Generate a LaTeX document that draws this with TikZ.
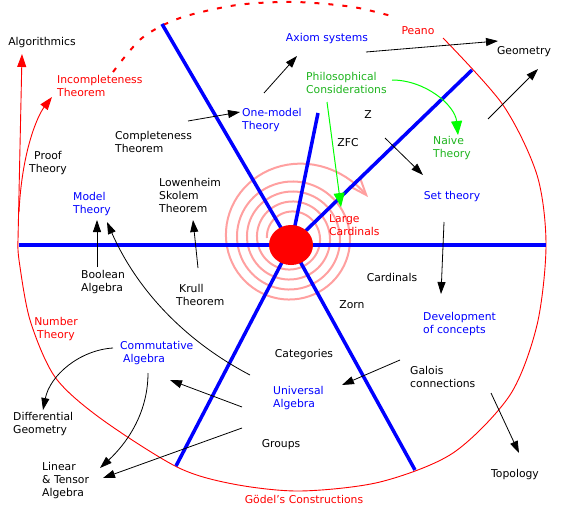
\documentclass[tikz,border=0pt]{standalone}
\usepackage{fontspec}
\setmainfont{DejaVu Sans}
\usepackage{xcolor}
\usepackage{tikz}
\usetikzlibrary{arrows.meta}
\definecolor{MapBlue}{HTML}{0000FF}
\definecolor{MapRed}{HTML}{FF0000}
\definecolor{MapGreen}{HTML}{1EB41E}
\definecolor{MapLime}{HTML}{00FF00}
\definecolor{MapPink}{HTML}{FFA0A0}
\tikzset{
  lbl/.style={inner sep=0pt,font=\fontsize{10.8}{13}\selectfont,align=left},
  topic/.style={lbl,text=MapBlue},
  limit/.style={lbl,text=MapRed},
  philo/.style={lbl,text=MapGreen},
  link/.style={-{Triangle[length=12pt,width=8pt]},line width=0.8pt},
  redlink/.style={-{Triangle[length=13pt,width=9pt]},line width=0.9pt,draw=MapRed},
  greenlink/.style={-{Triangle[length=14pt,width=11pt]},line width=1pt,draw=MapLime},
  spoke/.style={line width=3.5pt,draw=MapBlue},
  rim/.style={line width=0.9pt,draw=MapRed}
}

\begin{document}
\begin{tikzpicture}[x=1pt,y=-1pt,
  declare function={sprad(\a)=24+\a/36+19*(max(\a-1300,0)/292)*(max(\a-1300,0)/292)*(max(\a-1300,0)/292)*(max(\a-1300,0)/292);}]
  \useasboundingbox (0,0) rectangle (561,511);
  \coordinate (core) at (291,245);
  \coordinate (algo-i) at (22,54);
  \draw[redlink] plot[smooth] coordinates {(443,38) (503,105) (537,175) (546,245) (537,325)
    (510,395) (453,453) (380,482) (300,491) (233,484) (177,467) (100,418) (55,377) (30,320)
    (19,260) (18,240)} -- (algo-i);
  \draw[rim,line width=2pt,dash pattern=on 5pt off 9pt] plot[smooth] coordinates {(113,72)
    (142,38) (180,18) (237,5) (295,2) (353,7) (395,17)};
  \draw[MapPink,line width=2pt,-{Straight Barb[length=18pt,width=14pt]}]
    plot[domain=0:1592,samples=320,variable=\a]
    ({291+sprad(\a)*cos(\a-1260)},{238+sprad(\a)*sin(\a-1260)});
  \foreach \e in {(19,245),(546,245),(162,24),(318,113),(472,70),(176,466),(415,470)}
    \draw[spoke] (core) -- \e;
  \fill[MapRed] (core) ellipse [x radius=22,y radius=20];

  \node[lbl] (algo) at (42,43) {Algorithmics};
  \node[limit,anchor=west] (incomp) at (57,86) {Incompleteness\\Theorem};
  \node[lbl,align=center] (proof) at (48,163) {Proof\\Theory};
  \node[lbl,anchor=west] (cmpl) at (115,142) {Completeness\\Theorem};
  \node[topic,anchor=west] (onemodel) at (242,120) {One-model\\Theory};
  \node[topic] (axiom) at (327,39) {Axiom systems};
  \node[limit] (peano) at (418,31) {Peano};
  \node[lbl] (geom) at (524,52) {Geometry};
  \node[philo,anchor=west] (phil) at (306,83) {Philosophical\\Considerations};
  \node[lbl] (zz) at (368,115) {Z};
  \node[lbl] (zfc) at (348,143) {ZFC};
  \node[philo,anchor=west] (naive) at (433,148) {Naive\\Theory};
  \node[topic] (settheory) at (452,197) {Set theory};
  \node[topic,anchor=west] (model) at (73,204) {Model\\Theory};
  \node[lbl,anchor=west] (lowsk) at (159,195) {Lowenheim\\Skolem\\Theorem};
  \node[limit,anchor=west] (large) at (329,225) {Large\\Cardinals};
  \node[lbl,anchor=west] (boolean) at (81,282) {Boolean\\Algebra};
  \node[lbl,anchor=west] (krull) at (176,295) {\hspace*{3pt}Krull\\Theorem};
  \node[lbl] (cardinals) at (392,277) {Cardinals};
  \node[lbl] (zorn) at (352,305) {Zorn};
  \node[topic,anchor=west] (devel) at (423,324) {Development\\of concepts};
  \node[limit,align=center] (number) at (56,329) {Number\\Theory};
  \node[topic,anchor=west] (comm) at (120,353) {Commutative\\\hspace*{3pt}Algebra};
  \node[lbl] (categories) at (304,355) {Categories};
  \node[lbl,anchor=west] (galois) at (410,377) {Galois\\connections};
  \node[topic,anchor=west] (univ) at (273,398) {Universal\\Algebra};
  \node[lbl,anchor=west] (diff) at (13,424) {Differential\\Geometry};
  \node[lbl] (groups) at (281,445) {Groups};
  \node[lbl,anchor=west] (linear) at (42,481) {Linear\\\& Tensor\\Algebra};
  \node[lbl] (topology) at (515,475) {Topology};
  \node[limit] (godel) at (304,499) {Gödel's Constructions};

  \coordinate (cmpl-o) at (188,121); \coordinate (onemodel-i) at (240,112);
  \coordinate (onemodel-o) at (264,93); \coordinate (axiom-i) at (297,56);
  \coordinate (axiom-o) at (366,52); \coordinate (geom-i) at (498,41);
  \coordinate (geom-o) at (488,119); \coordinate (geom-j) at (538,69);
  \coordinate (phil-o) at (392,80); \coordinate (naive-i) at (458,135);
  \coordinate (phil-p) at (327,102); \coordinate (large-i) at (341,207);
  \coordinate (zz-o) at (385,138); \coordinate (set-i) at (423,175);
  \coordinate (set-o) at (444,222); \coordinate (devel-i) at (441,294);
  \coordinate (bool-o) at (97,267); \coordinate (model-i) at (97,220);
  \coordinate (univ-p) at (250,375); \coordinate (model-j) at (107,222);
  \coordinate (krull-o) at (198,268); \coordinate (lowsk-i) at (193,220);
  \coordinate (comm-o) at (113,348); \coordinate (diff-i) at (43,410);
  \coordinate (comm-p) at (148,373); \coordinate (linear-i) at (100,468);
  \coordinate (groups-o) at (242,428); \coordinate (linear-j) at (103,478);
  \coordinate (univ-o) at (242,407); \coordinate (comm-i) at (170,380);
  \coordinate (galois-o) at (400,360); \coordinate (univ-i) at (342,385);
  \coordinate (topo-o) at (491,393); \coordinate (topology-i) at (519,453);
  \coordinate (rim-b) at (19,212); \coordinate (incomp-i) at (52,97);

  \draw[redlink] (rim-b) .. controls (22,150) and (38,115) .. (incomp-i);
  \draw[link] (cmpl-o) -- (onemodel-i);
  \draw[link] (onemodel-o) -- (axiom-i);
  \draw[link] (axiom-o) -- (geom-i);
  \draw[link] (geom-o) -- (geom-j);
  \draw[greenlink] (phil-o) .. controls (425,80) and (455,105) .. (naive-i);
  \draw[greenlink] (phil-p) -- (large-i);
  \draw[link] (zz-o) -- (set-i);
  \draw[link] (set-o) -- (devel-i);
  \draw[link] (bool-o) -- (model-i);
  \draw[link] (univ-p) .. controls (185,341) and (137,290) .. (model-j);
  \draw[link] (krull-o) -- (lowsk-i);
  \draw[link] (comm-o) .. controls (80,350) and (50,375) .. (diff-i);
  \draw[link] (comm-p) .. controls (148,415) and (125,445) .. (linear-i);
  \draw[link] (groups-o) -- (linear-j);
  \draw[link] (univ-o) -- (comm-i);
  \draw[link] (galois-o) -- (univ-i);
  \draw[link] (topo-o) -- (topology-i);
\end{tikzpicture}
\end{document}
